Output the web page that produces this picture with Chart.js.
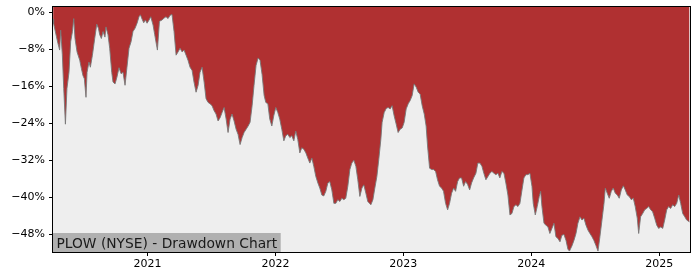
<!DOCTYPE html>
<html>
<head>
<meta charset="utf-8">
<script src="https://cdn.jsdelivr.net/npm/chart.js@4/dist/chart.umd.min.js"></script>
<style>
  body { margin: 0; background: #ffffff; }
  #wrap { width: 700px; height: 280px; }
</style>
</head>
<body>
<div id="wrap"><canvas id="ddChart" width="700" height="280"></canvas></div>
<script>
/* Drawdown data (decimal years, percent) */
var dates = [
  2020.263, 2020.267, 2020.289, 2020.301, 2020.314, 2020.322, 2020.335, 2020.346, 2020.359, 2020.371,
  2020.387, 2020.400, 2020.414, 2020.424, 2020.434, 2020.450, 2020.471, 2020.484, 2020.496, 2020.507,
  2020.520, 2020.528, 2020.543, 2020.554, 2020.570, 2020.588, 2020.604, 2020.617, 2020.627, 2020.640,
  2020.653, 2020.668, 2020.676, 2020.692, 2020.705, 2020.721, 2020.731, 2020.747, 2020.762, 2020.778,
  2020.794, 2020.809, 2020.825, 2020.840, 2020.856, 2020.872, 2020.887, 2020.903, 2020.919, 2020.934,
  2020.945, 2020.958, 2020.971, 2020.984, 2020.997, 2021.013, 2021.026, 2021.044, 2021.057, 2021.078,
  2021.094, 2021.114, 2021.130, 2021.145, 2021.161, 2021.177, 2021.192, 2021.208, 2021.224, 2021.239,
  2021.255, 2021.271, 2021.286, 2021.302, 2021.317, 2021.333, 2021.349, 2021.364, 2021.380, 2021.396,
  2021.411, 2021.427, 2021.443, 2021.458, 2021.474, 2021.489, 2021.505, 2021.521, 2021.536, 2021.552,
  2021.568, 2021.583, 2021.599, 2021.615, 2021.630, 2021.646, 2021.661, 2021.677, 2021.693, 2021.708,
  2021.724, 2021.740, 2021.755, 2021.771, 2021.787, 2021.802, 2021.818, 2021.833, 2021.849, 2021.865,
  2021.880, 2021.896, 2021.912, 2021.925, 2021.941, 2021.956, 2021.972, 2021.987, 2022.003, 2022.019,
  2022.034, 2022.050, 2022.066, 2022.081, 2022.097, 2022.113, 2022.128, 2022.144, 2022.159, 2022.175,
  2022.191, 2022.206, 2022.222, 2022.238, 2022.253, 2022.269, 2022.285, 2022.300, 2022.316, 2022.332,
  2022.347, 2022.363, 2022.378, 2022.394, 2022.410, 2022.425, 2022.441, 2022.457, 2022.472, 2022.488,
  2022.504, 2022.519, 2022.535, 2022.550, 2022.566, 2022.582, 2022.597, 2022.613, 2022.629, 2022.644,
  2022.660, 2022.676, 2022.691, 2022.707, 2022.722, 2022.746, 2022.762, 2022.777, 2022.793, 2022.808,
  2022.824, 2022.834, 2022.850, 2022.866, 2022.881, 2022.897, 2022.912, 2022.928, 2022.944, 2022.959,
  2022.975, 2022.991, 2023.006, 2023.022, 2023.038, 2023.053, 2023.069, 2023.084, 2023.100, 2023.116,
  2023.131, 2023.147, 2023.163, 2023.178, 2023.189, 2023.205, 2023.221, 2023.236, 2023.252, 2023.267,
  2023.283, 2023.299, 2023.314, 2023.330, 2023.346, 2023.361, 2023.377, 2023.393, 2023.408, 2023.424,
  2023.439, 2023.455, 2023.471, 2023.486, 2023.502, 2023.518, 2023.533, 2023.549, 2023.567, 2023.582,
  2023.598, 2023.614, 2023.629, 2023.645, 2023.661, 2023.676, 2023.692, 2023.708, 2023.723, 2023.739,
  2023.754, 2023.770, 2023.786, 2023.801, 2023.817, 2023.833, 2023.848, 2023.864, 2023.880, 2023.895,
  2023.911, 2023.927, 2023.942, 2023.958, 2023.973, 2023.989, 2024.005, 2024.015, 2024.031, 2024.046,
  2024.062, 2024.073, 2024.083, 2024.099, 2024.114, 2024.130, 2024.145, 2024.161, 2024.177, 2024.192,
  2024.208, 2024.224, 2024.239, 2024.255, 2024.271, 2024.286, 2024.298, 2024.317, 2024.333, 2024.349,
  2024.364, 2024.380, 2024.396, 2024.411, 2024.427, 2024.443, 2024.458, 2024.474, 2024.489, 2024.505,
  2024.521, 2024.536, 2024.552, 2024.568, 2024.578, 2024.593, 2024.609, 2024.625, 2024.640, 2024.656,
  2024.672, 2024.687, 2024.703, 2024.719, 2024.734, 2024.750, 2024.765, 2024.781, 2024.797, 2024.812,
  2024.828, 2024.839, 2024.854, 2024.870, 2024.886, 2024.901, 2024.917, 2024.933, 2024.948, 2024.964,
  2024.980, 2024.995, 2025.011, 2025.027, 2025.042, 2025.058, 2025.073, 2025.089, 2025.105, 2025.120,
  2025.136, 2025.152, 2025.167, 2025.183, 2025.199, 2025.214, 2025.236
];
var drawdown = [
  -1.5, -2.5, -5.3, -6.8, -8.2, -3.9, -9.2, -16.5, -24.2, -16.5,
  -13.0, -6.4, -4.2, -1.4, -5.7, -8.6, -10.4, -12.2, -13.7, -14.4,
  -18.4, -13.0, -10.8, -11.9, -9.3, -5.7, -2.6, -3.5, -4.9, -5.7,
  -4.2, -5.4, -3.2, -4.9, -7.8, -13.0, -15.1, -15.5, -14.0, -12.0,
  -13.3, -13.0, -15.8, -11.9, -7.8, -6.4, -4.2, -3.5, -2.4, -1.0,
  -0.6, -1.5, -2.3, -1.7, -2.4, -1.7, -1.0, -2.8, -4.9, -8.2,
  -2.0, -1.7, -1.3, -1.0, -1.4, -0.7, -0.5, -4.2, -9.3, -8.6,
  -7.8, -8.6, -8.2, -9.3, -10.4, -11.9, -12.6, -15.1, -17.3, -15.8,
  -13.0, -11.9, -15.1, -18.7, -19.5, -19.8, -20.2, -21.3, -22.0, -23.5,
  -22.8, -21.7, -20.6, -23.1, -26.0, -23.1, -22.0, -23.5, -25.3, -26.4,
  -28.6, -27.1, -26.0, -25.3, -24.6, -23.8, -20.2, -15.8, -11.5, -9.9,
  -10.4, -13.5, -18.0, -19.5, -19.8, -23.1, -24.6, -22.4, -20.6, -21.7,
  -23.1, -25.3, -27.8, -26.7, -26.4, -27.1, -26.7, -27.8, -25.7, -27.5,
  -30.4, -29.3, -29.6, -30.4, -31.5, -32.6, -31.5, -33.3, -35.5, -36.9,
  -38.0, -39.5, -39.7, -38.7, -36.9, -36.6, -38.4, -41.3, -41.3, -40.5,
  -40.9, -40.2, -40.5, -40.2, -37.6, -34.0, -32.6, -32.0, -33.3, -36.2,
  -39.8, -38.0, -37.3, -39.1, -40.9, -41.6, -40.5, -38.0, -35.5, -31.8,
  -27.5, -23.8, -21.7, -20.8, -20.6, -20.9, -20.2, -22.4, -24.2, -26.0,
  -25.3, -25.0, -23.8, -20.9, -19.8, -19.1, -18.0, -15.5, -16.2, -17.3,
  -17.7, -20.2, -22.0, -24.6, -28.9, -33.7, -34.0, -34.0, -34.4, -36.2,
  -37.6, -38.0, -38.7, -41.3, -42.7, -41.3, -39.1, -38.0, -38.7, -36.6,
  -35.8, -35.8, -37.6, -36.6, -37.2, -38.4, -36.9, -35.8, -34.8, -32.6,
  -32.6, -33.3, -34.8, -36.2, -35.5, -34.8, -34.4, -34.8, -35.1, -34.8,
  -35.8, -34.4, -34.8, -36.9, -39.5, -43.8, -43.5, -42.0, -41.6, -42.0,
  -41.3, -38.4, -35.8, -35.1, -35.1, -34.8, -37.6, -41.3, -43.8, -42.0,
  -39.8, -38.7, -42.0, -45.6, -46.0, -46.4, -47.8, -46.7, -45.6, -48.5,
  -48.9, -49.6, -48.2, -48.0, -49.3, -51.2, -51.6, -50.5, -49.3, -47.8,
  -45.6, -44.2, -44.9, -44.5, -46.0, -47.1, -47.8, -48.5, -49.3, -50.4,
  -51.6, -48.5, -44.9, -41.3, -38.0, -39.1, -40.2, -38.7, -38.0, -39.1,
  -39.5, -40.2, -38.4, -37.5, -38.4, -39.5, -39.8, -40.5, -40.2, -42.0,
  -44.5, -47.8, -44.2, -43.5, -42.7, -42.4, -42.0, -42.7, -43.1, -44.5,
  -46.0, -46.7, -46.4, -46.7, -44.9, -42.7, -42.0, -42.4, -41.6, -42.0,
  -41.3, -39.5, -41.3, -43.5, -44.2, -44.9, -45.3
];
var yearTicks = [2021, 2022, 2023, 2024, 2025];
var pctTicks = [0, -8, -16, -24, -32, -40, -48];
var chartLabel = 'PLOW (NYSE) - Drawdown Chart';

var points = dates.map(function(d, i) { return { x: d, y: drawdown[i] }; });

/* plot background, spines and the label box */
var framePlugin = {
    id: 'frame',
    beforeDraw: function(chart) {
        var a = chart.chartArea, ctx = chart.ctx;
        ctx.save();
        ctx.fillStyle = '#eeeeee';
        ctx.fillRect(a.left, a.top, a.right - a.left, a.bottom - a.top);
        ctx.restore();
    },
    afterDraw: function(chart) {
        var a = chart.chartArea, ctx = chart.ctx;
        ctx.save();
        ctx.font = '13.8px "DejaVu Sans"';
        var w = ctx.measureText(chartLabel).width;
        ctx.fillStyle = '#b0b0b0';
        ctx.fillRect(a.left, a.bottom - 19, w + 7, 19);
        ctx.fillStyle = '#1a1a1a';
        ctx.textBaseline = 'alphabetic';
        ctx.fillText(chartLabel, a.left + 3.5, a.bottom - 4.5);
        ctx.strokeStyle = '#000000';
        ctx.lineWidth = 1;
        ctx.strokeRect(a.left - 0.5, a.top - 0.5, a.right - a.left + 1, a.bottom - a.top + 1);
        ctx.restore();
    }
};

new Chart(document.getElementById('ddChart'), {
    type: 'line',
    data: {
        datasets: [{
            data: points,
            borderColor: 'rgba(120, 120, 120, 0.9)',
            borderWidth: 1,
            backgroundColor: '#b03031',
            fill: 'end',
            pointRadius: 0,
            tension: 0
        }]
    },
    options: {
        responsive: false,
        animation: false,
        layout: { padding: { left: 0, right: 10, top: 7, bottom: 0 } },
        plugins: { legend: { display: false }, tooltip: { enabled: false } },
        scales: {
            x: {
                type: 'linear',
                min: 2020.262,
                max: 2025.240,
                afterBuildTicks: function(axis) {
                    axis.ticks = yearTicks.map(function(v) { return { value: v }; });
                },
                afterFit: function(axis) {
                    axis.height = 28;
                    axis.paddingLeft = 0;
                    axis.paddingRight = 0;
                },
                grid: { drawOnChartArea: false, tickLength: 4, color: '#000000' },
                border: { display: false },
                ticks: {
                    color: '#000000',
                    font: { family: 'DejaVu Sans', size: 11 },
                    padding: 2,
                    maxRotation: 0,
                    callback: function(v) { return String(v); }
                }
            },
            y: {
                min: -51.8,
                max: 1.1,
                afterBuildTicks: function(axis) {
                    axis.ticks = pctTicks.map(function(v) { return { value: v }; });
                },
                afterFit: function(axis) {
                    axis.width = 53;
                    axis.paddingTop = 0;
                    axis.paddingBottom = 0;
                },
                grid: { drawOnChartArea: false, tickLength: 4, color: '#000000' },
                border: { display: false },
                ticks: {
                    color: '#000000',
                    font: { family: 'DejaVu Sans', size: 11 },
                    padding: 4,
                    callback: function(v) { return (v < 0 ? '\u2212' : '') + Math.abs(v) + '%'; }
                }
            }
        }
    },
    plugins: [framePlugin]
});
</script>
</body>
</html>
